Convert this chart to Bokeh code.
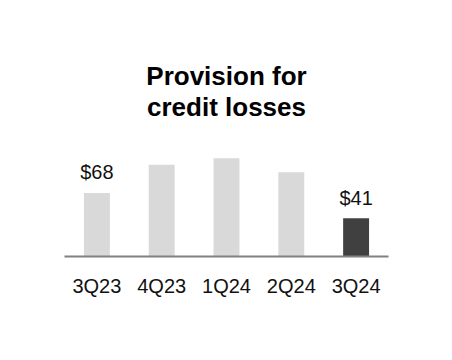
from bokeh.plotting import figure
from bokeh.models import FixedTicker, Range1d
from bokeh.core.properties import value
from bokeh.embed import file_html
from bokeh.resources import INLINE

quarters = ["3Q23", "4Q23", "1Q24", "2Q24", "3Q24"]
provision = [68, 98, 105, 90, 41]
value_labels = ["$68", "", "", "", "$41"]
bar_colors = ["#d9d9d9", "#d9d9d9", "#d9d9d9", "#d9d9d9", "#404040"]
title_lines = ["Provision for", "credit losses"]

FONT = "Liberation Sans"
frame_h = 256
scale = 0.935  # px per unit
y_end = frame_h / scale

p = figure(width=452, height=360, output_backend="svg", toolbar_location=None,
           x_range=Range1d(-0.5, 4.5), y_range=Range1d(0, y_end),
           min_border_left=64, min_border_right=64, min_border_top=0,
           min_border_bottom=104, outline_line_color=None,
           background_fill_color="white", border_fill_color="white")

xs = list(range(len(quarters)))
p.vbar(x=xs, top=provision, width=0.4, bottom=0, fill_color=bar_colors, line_color=None)

lx = [i for i, t in enumerate(value_labels) if t]
ly = [provision[i] + 20.5 / scale for i in lx]
lt = [value_labels[i] for i in lx]
p.text(x=lx, y=ly, text=lt, text_align="center", text_baseline="alphabetic",
       text_font=value(FONT), text_font_size="20px", text_color="#111111")

title_y = [(frame_h - 75.5) / scale, (frame_h - 106) / scale]
p.text(x=[2, 2], y=title_y, text=title_lines, text_align="center", text_baseline="alphabetic",
       text_font=value(FONT), text_font_size="26px", text_font_style="bold", text_color="#000000")

p.yaxis.visible = False
p.xgrid.visible = False
p.ygrid.visible = False
ax = p.xaxis[0]
ax.ticker = FixedTicker(ticks=xs)
ax.major_label_overrides = {i: q for i, q in enumerate(quarters)}
ax.axis_line_color = "#808080"
ax.axis_line_width = 2
ax.major_tick_line_color = None
ax.minor_tick_line_color = None
ax.major_tick_out = 0
ax.major_tick_in = 0
ax.major_label_standoff = 18
ax.major_label_text_font = FONT
ax.major_label_text_font_size = "20px"
ax.major_label_text_color = "#111111"

open("out.html", "w").write(file_html(p, INLINE))
